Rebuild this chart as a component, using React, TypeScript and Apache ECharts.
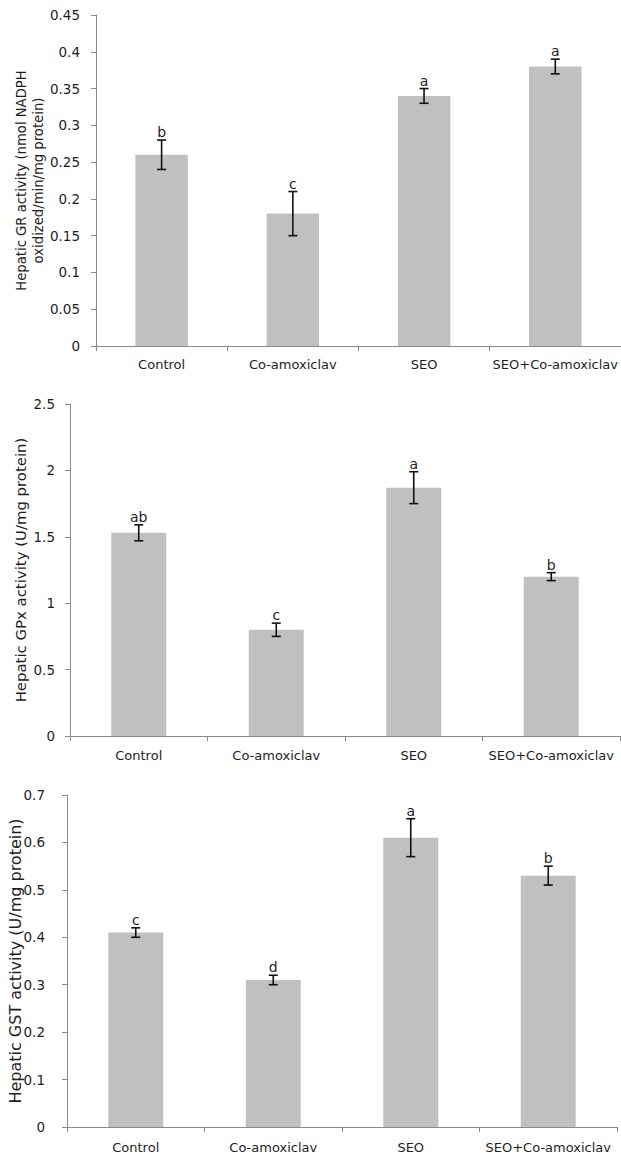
import React, { useEffect, useRef } from "react";
import * as echarts from "echarts";

const categories = ["Control", "Co-amoxiclav", "SEO", "SEO+Co-amoxiclav"];

const grValues = [0.26, 0.18, 0.34, 0.38];
const grErrors = [0.02, 0.03, 0.01, 0.01];
const grLetters = ["b", "c", "a", "a"];
const grTicks = { min: 0, max: 0.45, interval: 0.05 };

const gpxValues = [1.53, 0.8, 1.87, 1.2];
const gpxErrors = [0.06, 0.05, 0.12, 0.03];
const gpxLetters = ["ab", "c", "a", "b"];
const gpxTicks = { min: 0, max: 2.5, interval: 0.5 };

const gstValues = [0.41, 0.31, 0.61, 0.53];
const gstErrors = [0.01, 0.01, 0.04, 0.02];
const gstLetters = ["c", "d", "a", "b"];
const gstTicks = { min: 0, max: 0.7, interval: 0.1 };

const FONT = "DejaVu Sans";
const TEXT = "#1e1e1e";
const AXIS = "#8a8a8a";
const BAR = "#c0c0c0";

const panels = [
  { values: grValues, errors: grErrors, letters: grLetters, ticks: grTicks, grid: { left: 96, top: 15, width: 525, height: 331 }, labelMargin: 16, catMargin: 12, titleLines: ["Hepatic GR activity (nmol NADPH", "oxidized/min/mg protein)"], titleX: [21, 38], titleSize: 13.2 },
  { values: gpxValues, errors: gpxErrors, letters: gpxLetters, ticks: gpxTicks, grid: { left: 70, top: 404, width: 550, height: 332 }, labelMargin: 15, catMargin: 13, titleLines: ["Hepatic GPx activity (U/mg protein)"], titleX: [20.5], titleSize: 14.9 },
  { values: gstValues, errors: gstErrors, letters: gstLetters, ticks: gstTicks, grid: { left: 67, top: 795, width: 550, height: 332 }, labelMargin: 22, catMargin: 14, titleLines: ["Hepatic GST activity (U/mg protein)"], titleX: [15.5], titleSize: 16 },
];

export default function App() {
  const ref = useRef<HTMLDivElement>(null);
  useEffect(() => {
    if (!ref.current) return;
    const chart = echarts.init(ref.current, null, { renderer: "svg" });
    const grids: any[] = [];
    const xAxes: any[] = [];
    const yAxes: any[] = [];
    const series: any[] = [];
    const graphics: any[] = [];
    panels.forEach((p, k) => {
      grids.push({ ...p.grid, containLabel: false });
      xAxes.push({
        type: "category",
        gridIndex: k,
        data: categories,
        boundaryGap: true,
        axisLine: { lineStyle: { color: AXIS, width: 1 } },
        axisTick: { show: true, length: 5, inside: false, alignWithLabel: false, lineStyle: { color: AXIS } },
        axisLabel: { color: TEXT, fontFamily: FONT, fontSize: 13, margin: p.catMargin, interval: 0 },
        splitLine: { show: false },
      });
      yAxes.push({
        type: "value",
        gridIndex: k,
        min: p.ticks.min,
        max: p.ticks.max,
        interval: p.ticks.interval,
        axisLine: { show: true, lineStyle: { color: AXIS, width: 1 } },
        axisTick: { show: true, length: 5, lineStyle: { color: AXIS } },
        axisLabel: { color: TEXT, fontFamily: FONT, fontSize: 13.5, margin: p.labelMargin },
        splitLine: { show: false },
      });
      series.push({
        type: "bar",
        xAxisIndex: k,
        yAxisIndex: k,
        data: p.values,
        barWidth: "40%",
        itemStyle: { color: BAR },
        silent: true,
      });
      const letters = p.letters;
      series.push({
        type: "custom",
        xAxisIndex: k,
        yAxisIndex: k,
        data: p.values.map((v, i) => [i, v, p.errors[i]]),
        encode: { x: 0, y: 1 },
        z: 10,
        silent: true,
        renderItem: (params: any, api: any) => {
          const i = api.value(0);
          const v = api.value(1);
          const e = api.value(2);
          const top = api.coord([i, v + e]);
          const bot = api.coord([i, v - e]);
          const x = top[0];
          const hw = 4.5;
          const st = { stroke: "#111", lineWidth: 1.6 };
          return {
            type: "group",
            children: [
              { type: "line", shape: { x1: x, y1: top[1], x2: x, y2: bot[1] }, style: st },
              { type: "line", shape: { x1: x - hw, y1: top[1], x2: x + hw, y2: top[1] }, style: st },
              { type: "line", shape: { x1: x - hw, y1: bot[1], x2: x + hw, y2: bot[1] }, style: st },
              {
                type: "text",
                x: x,
                y: top[1] - 1,
                style: { text: letters[params.dataIndex], align: "center", verticalAlign: "bottom", fontFamily: FONT, fontSize: 14, fill: TEXT },
              },
            ],
          };
        },
      });
      const cy = p.grid.top + p.grid.height / 2;
      p.titleLines.forEach((t, j) => {
        graphics.push({
          type: "text",
          x: p.titleX[j],
          y: cy,
          rotation: Math.PI / 2,
          style: { text: t, align: "center", verticalAlign: "middle", fontFamily: FONT, fontSize: p.titleSize, fill: TEXT },
        });
      });
    });
    chart.setOption({
      animation: false,
      backgroundColor: "#ffffff",
      grid: grids,
      xAxis: xAxes,
      yAxis: yAxes,
      series,
      graphic: graphics,
    });
    return () => chart.dispose();
  }, []);
  return (
    <div
      ref={ref}
      style={{ position: "absolute", left: 0, top: 0, width: 621, height: 1163, background: "#fff" }}
    />
  );
}
